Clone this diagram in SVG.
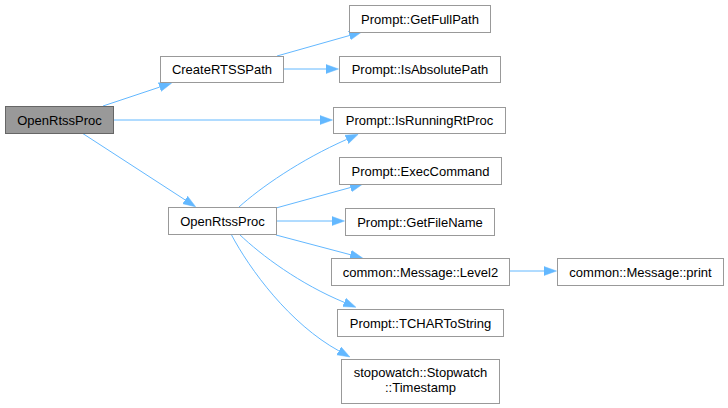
<svg xmlns="http://www.w3.org/2000/svg" width="728" height="408" viewBox="0 0 728 408">
<style>
.n rect{fill:#ffffff;stroke:#999999;stroke-width:1}
.root rect{fill:#999999;stroke:#666666}
text{font-family:"Liberation Sans",Arial,Helvetica,sans-serif;font-size:13px;fill:#000000;text-anchor:middle}
.e path{fill:none;stroke:#63b8ff;stroke-width:1}
</style>
<defs>
<marker id="ah" markerUnits="userSpaceOnUse" markerWidth="14" markerHeight="11" refX="0" refY="5" orient="auto">
<path d="M0,0.5 L12.5,5 L0,9.5 z" fill="#63b8ff" stroke="#63b8ff" stroke-width="0.5"/>
</marker>
</defs>
<rect width="728" height="408" fill="#ffffff"/>
<g class="e">
<path marker-end="url(#ah)" d="M103,106 L159.7,87.1"/>
<path marker-end="url(#ah)" d="M113,120 L320,120"/>
<path marker-end="url(#ah)" d="M82,133 L185.1,199.9"/>
<path marker-end="url(#ah)" d="M277,56 L349.5,35.5"/>
<path marker-end="url(#ah)" d="M283,69 L326,69"/>
<path marker-end="url(#ah)" d="M239,207 C260,188 300,160 346.7,139.4"/>
<path marker-end="url(#ah)" d="M276,208 L350.5,187.5"/>
<path marker-end="url(#ah)" d="M276,221 L332,221"/>
<path marker-end="url(#ah)" d="M276,235 L350.4,254.7"/>
<path marker-end="url(#ah)" d="M509,271 L544,271"/>
<path marker-end="url(#ah)" d="M239,234 C262,256 300,284 344.3,302.4"/>
<path marker-end="url(#ah)" d="M231,234 C250,270 290,324 338.9,350.9"/>
</g>
<g id="node1" class="n root"><rect x="5.5" y="106.5" width="108" height="27"/><text x="59.5" y="124.5">OpenRtssProc</text></g>
<g id="node2" class="n"><rect x="160.5" y="56.5" width="123" height="26"/><text x="222" y="74">CreateRTSSPath</text></g>
<g id="node3" class="n"><rect x="349.5" y="5.5" width="141" height="27"/><text x="420" y="23.5">Prompt::GetFullPath</text></g>
<g id="node4" class="n"><rect x="339.5" y="56.5" width="161" height="26"/><text x="420" y="74">Prompt::IsAbsolutePath</text></g>
<g id="node5" class="n"><rect x="333.5" y="107.5" width="172" height="26"/><text x="419.5" y="125">Prompt::IsRunningRtProc</text></g>
<g id="node6" class="n"><rect x="168.5" y="207.5" width="108" height="27"/><text x="222.5" y="225.5">OpenRtssProc</text></g>
<g id="node7" class="n"><rect x="339.5" y="157.5" width="162" height="27"/><text x="420.5" y="175.5">Prompt::ExecCommand</text></g>
<g id="node8" class="n"><rect x="345.5" y="208.5" width="149" height="27"/><text x="420" y="226.5">Prompt::GetFileName</text></g>
<g id="node9" class="n"><rect x="331.5" y="258.5" width="178" height="27"/><text x="420.5" y="276.5">common::Message::Level2</text></g>
<g id="node10" class="n"><rect x="557.5" y="258.5" width="166" height="27"/><text x="640.5" y="276.5">common::Message::print</text></g>
<g id="node11" class="n"><rect x="337.5" y="309.5" width="166" height="27"/><text x="420.5" y="327.5">Prompt::TCHARToString</text></g>
<g id="node12" class="n"><rect x="341.5" y="359.5" width="158" height="44"/><text x="420.5" y="377">stopowatch::Stopwatch</text><text x="420.5" y="392">::Timestamp</text></g>
</svg>
